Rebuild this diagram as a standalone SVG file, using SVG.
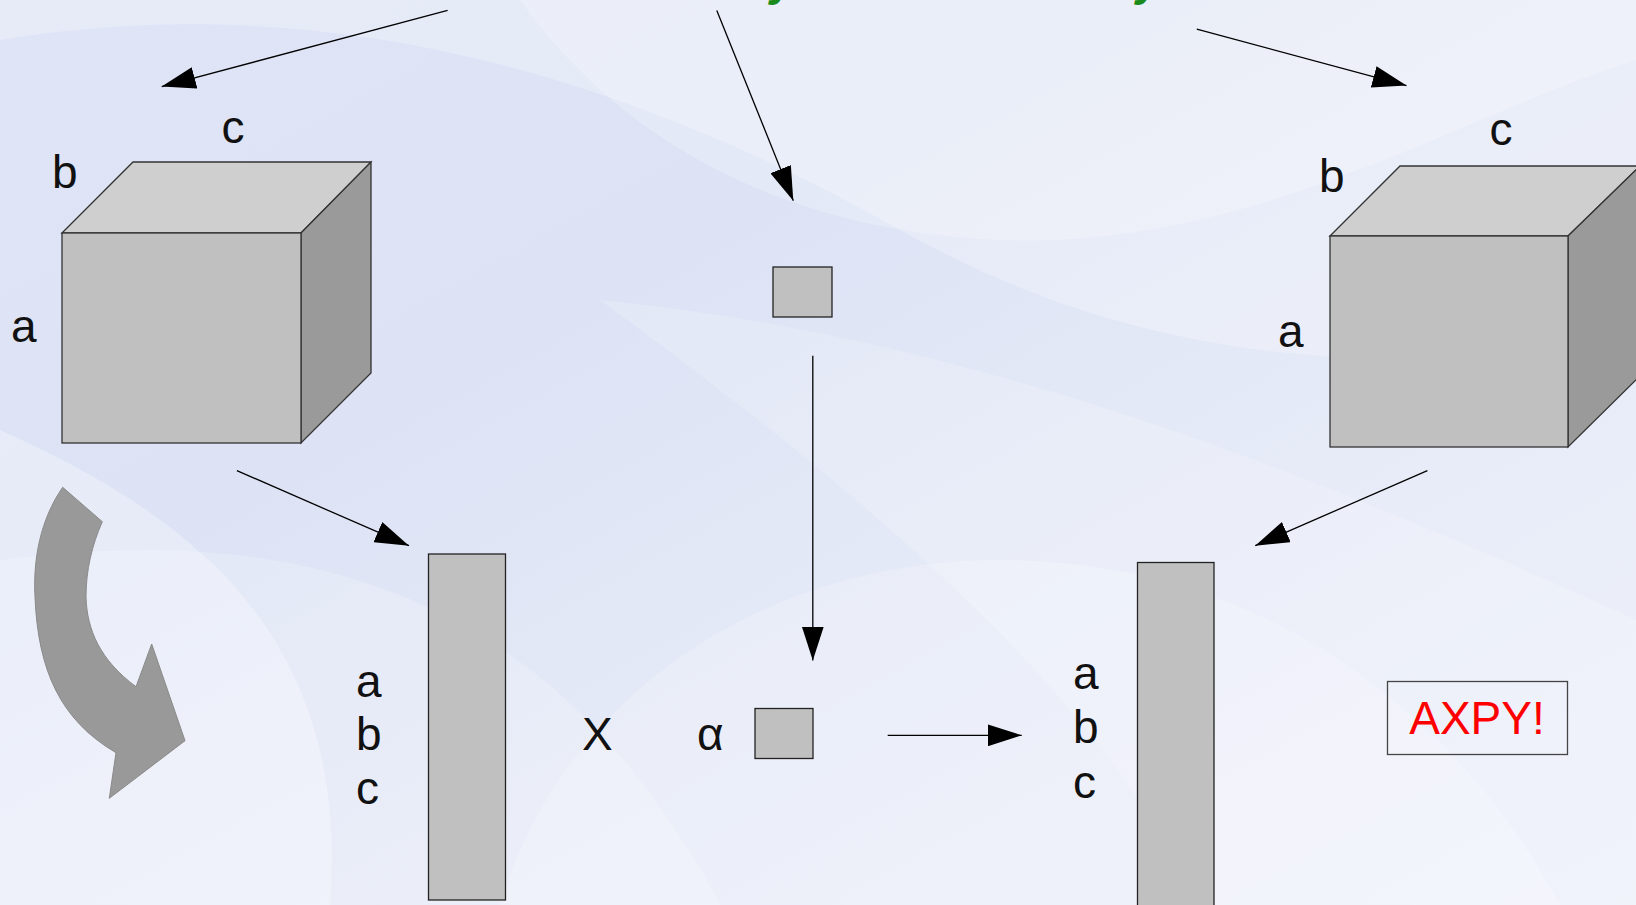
<svg xmlns="http://www.w3.org/2000/svg" width="1636" height="905" viewBox="0 0 1636 905">
  <defs>
    <linearGradient id="bg" x1="0" y1="0" x2="1" y2="1">
      <stop offset="0" stop-color="#dfe4f6"/>
      <stop offset="0.35" stop-color="#dde3f5"/>
      <stop offset="0.7" stop-color="#e8ecf8"/>
      <stop offset="1" stop-color="#eef1fa"/>
    </linearGradient>
    <marker id="arrow" viewBox="0 0 34 22" refX="34" refY="11" markerWidth="34" markerHeight="22" markerUnits="userSpaceOnUse" orient="auto">
      <path d="M0,0 L34,11 L0,22 Z" fill="#000"/>
    </marker>
    <style>
      .lbl { font-family: "Liberation Sans", Arial, sans-serif; font-size: 46px; fill: #111; }
      .front { fill: #c0c0c0; stroke: #333; stroke-width: 1.3; }
      .top { fill: #cfcfcf; stroke: #333; stroke-width: 1.3; }
      .side { fill: #9a9a9a; stroke: #333; stroke-width: 1.3; }
      .box { fill: #c0c0c0; stroke: #222; stroke-width: 1.3; }
      .conn { stroke: #000; stroke-width: 1.3; fill: none; marker-end: url(#arrow); }
      .swoosh { fill: #ffffff; }
    </style>
  </defs>

  <!-- background with soft swooshes -->
  <rect x="0" y="0" width="1636" height="905" fill="url(#bg)"/>
  <path class="swoosh" opacity="0.25" d="M0,40 C300,-10 600,60 900,230 C1150,370 1400,380 1636,330 L1636,0 L0,0 Z"/>
  <path class="swoosh" opacity="0.22" d="M520,0 C620,140 780,230 1000,240 C1250,250 1450,120 1636,60 L1636,0 Z"/>
  <path class="swoosh" opacity="0.3" d="M0,430 C200,520 350,640 330,905 L0,905 Z"/>
  <path class="swoosh" opacity="0.2" d="M500,905 C560,700 760,560 1000,560 C1250,560 1450,700 1560,905 Z"/>
  <path class="swoosh" opacity="0.18" d="M600,300 C900,330 1200,420 1636,620 L1636,905 L1200,905 C1100,700 900,520 600,300 Z"/>
  <path class="swoosh" opacity="0.2" d="M0,560 C300,520 500,600 640,780 C700,860 720,905 720,905 L0,905 Z"/>

  <!-- heading glyphs cut by the top edge -->
  <g id="heading" font-family="Liberation Sans, Arial, sans-serif" font-size="46" font-weight="bold" font-style="italic" fill="#1a8a1a">
    <text x="770" y="-5">y</text>
    <text x="1136" y="-5">y</text>
  </g>

  <!-- left cube -->
  <g id="cube-left">
    <polygon class="top" points="62,233 133,162 371,162 301,233"/>
    <polygon class="side" points="301,233 371,162 371,373 301,443"/>
    <rect class="front" x="62" y="233" width="239" height="210"/>
    <text class="lbl" x="233" y="143" text-anchor="middle">c</text>
    <text class="lbl" x="52" y="188">b</text>
    <text class="lbl" x="11" y="342">a</text>
  </g>

  <!-- right cube -->
  <g id="cube-right">
    <polygon class="top" points="1330,236 1400,166 1640,166 1568,236"/>
    <polygon class="side" points="1568,236 1640,166 1640,376 1568,447"/>
    <rect class="front" x="1330" y="236" width="238" height="211"/>
    <text class="lbl" x="1501" y="145" text-anchor="middle">c</text>
    <text class="lbl" x="1319" y="192">b</text>
    <text class="lbl" x="1278" y="347">a</text>
  </g>

  <!-- scalar source -->
  <g id="scalar-top">
    <rect class="box" x="773" y="267" width="59" height="50"/>
  </g>

  <!-- curved reshape arrow -->
  <g id="reshape-arrow">
    <path d="M62.7,487.3 L102.3,521.7 C92,545 86,570 86,597 C87,630 100,660 136,686.7 L151.7,644 L185,740.7 L109.3,798.3 L116,752.7 C60,720 38,670 35,597 C33,560 40,520 62.7,487.3 Z" fill="#999999" stroke="#8a8a8a" stroke-width="1"/>
  </g>

  <!-- x vector (left bar) -->
  <g id="vector-x">
    <rect class="box" x="428.5" y="554" width="77" height="346"/>
    <text class="lbl" x="356" y="697">a</text>
    <text class="lbl" x="356" y="750">b</text>
    <text class="lbl" x="356" y="804">c</text>
  </g>

  <!-- times sign -->
  <g id="times">
    <text class="lbl" x="582" y="750">X</text>
  </g>

  <!-- alpha scalar -->
  <g id="alpha">
    <text class="lbl" x="697" y="750">α</text>
    <rect class="box" x="755" y="708.5" width="58" height="50"/>
  </g>

  <!-- y vector (right bar) -->
  <g id="vector-y">
    <rect class="box" x="1137.5" y="562.5" width="76.5" height="350"/>
    <text class="lbl" x="1073" y="689">a</text>
    <text class="lbl" x="1073" y="743">b</text>
    <text class="lbl" x="1073" y="798">c</text>
  </g>

  <!-- result label -->
  <g id="axpy">
    <rect x="1387.5" y="681.5" width="180" height="73" fill="none" stroke="#444" stroke-width="1.3"/>
    <text x="1477" y="734" text-anchor="middle" font-family="Liberation Sans, Arial, sans-serif" font-size="46" fill="#ff0000">AXPY!</text>
  </g>

  <!-- connectors -->
  <g id="connectors">
    <line class="conn" x1="447.6" y1="10.4" x2="161.7" y2="86.6"/>
    <line class="conn" x1="716.8" y1="10.4" x2="793.3" y2="200.7"/>
    <line class="conn" x1="1196.8" y1="29.2" x2="1406.5" y2="85.6"/>
    <line class="conn" x1="236.9" y1="470.6" x2="409" y2="545.7"/>
    <line class="conn" x1="812.8" y1="355.8" x2="812.8" y2="660.5"/>
    <line class="conn" x1="1427.4" y1="470.6" x2="1255.2" y2="545.7"/>
    <line class="conn" x1="887.7" y1="735.3" x2="1021.7" y2="735.3"/>
  </g>
</svg>
